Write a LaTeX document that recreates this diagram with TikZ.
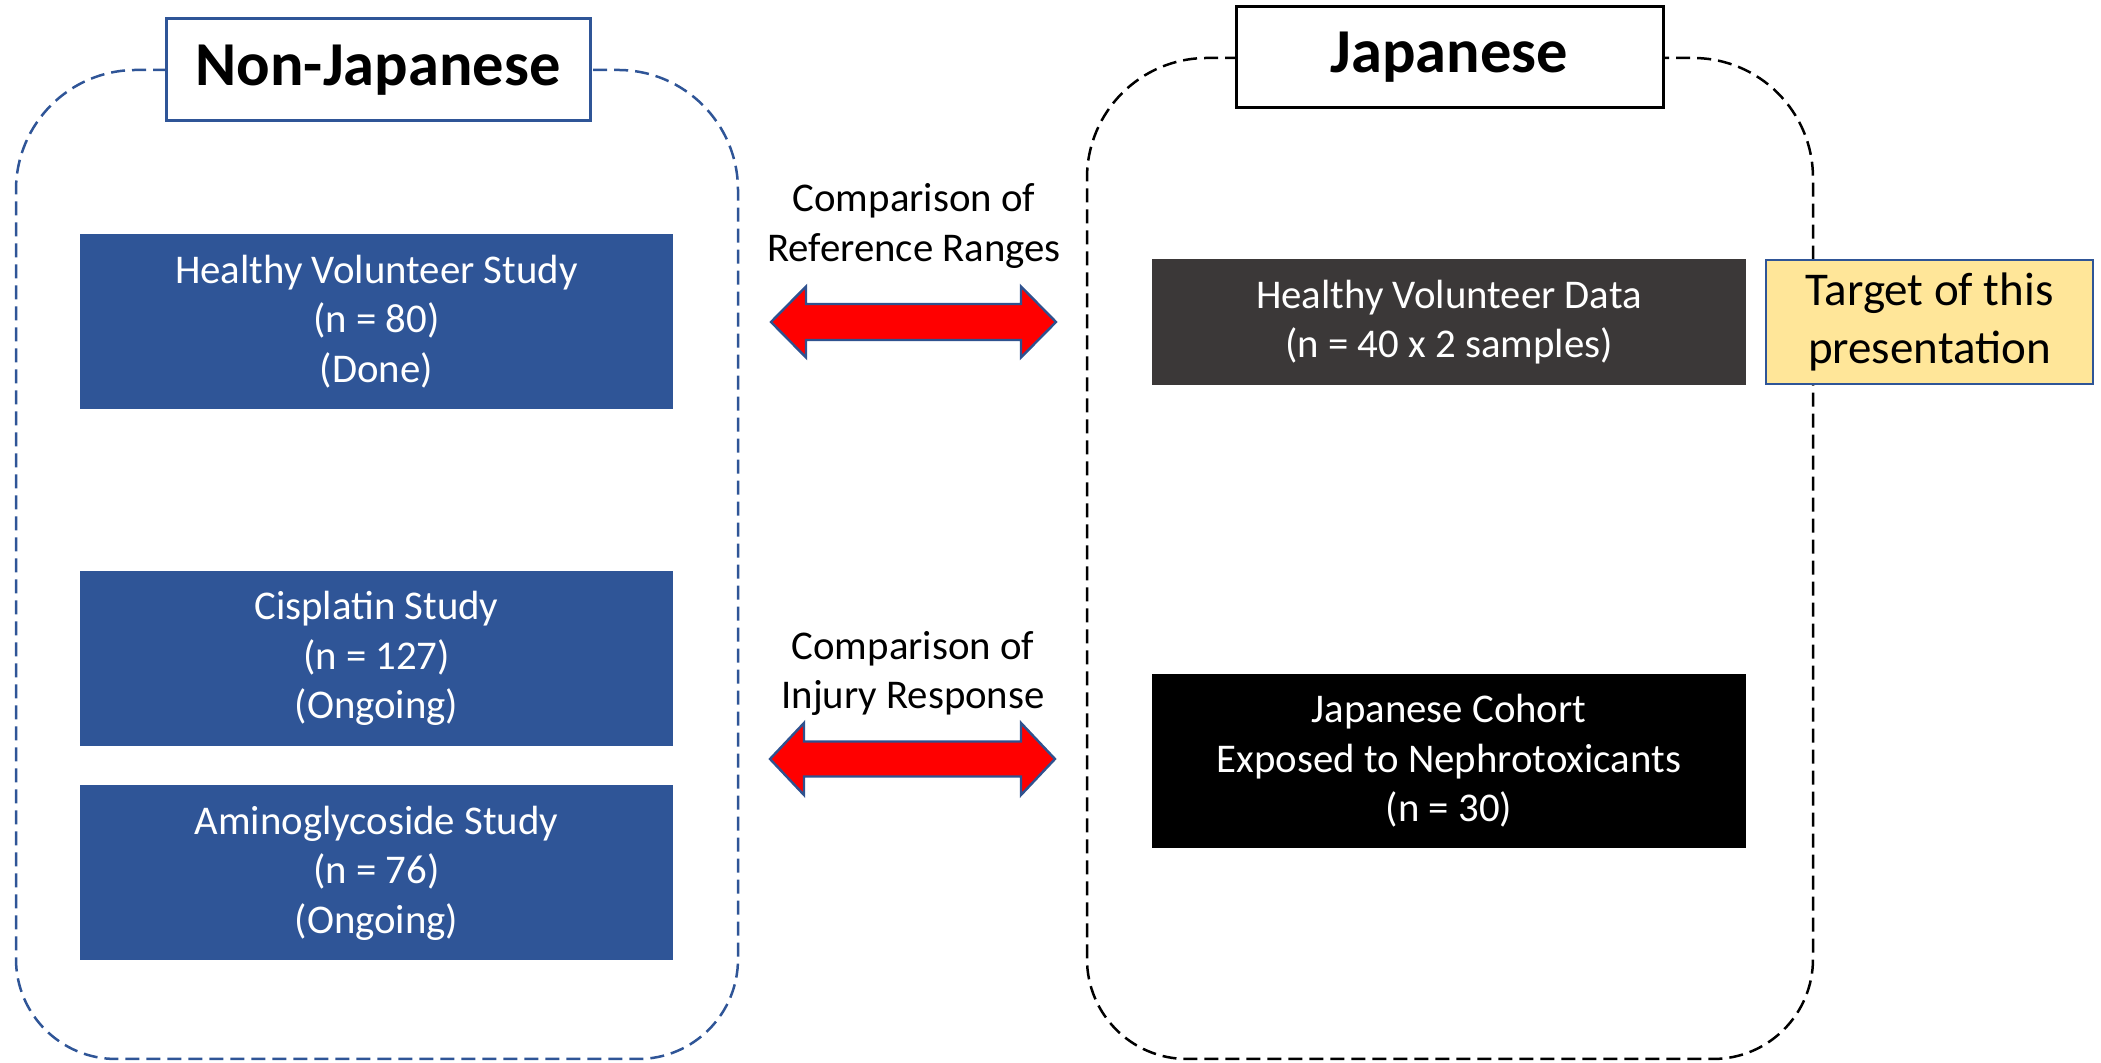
\documentclass[tikz,border=0pt]{standalone}
\usepackage{fontspec}
\setmainfont{Carlito}
\definecolor{cblue}{RGB}{47,85,151}
\definecolor{cgray}{RGB}{59,56,56}
\definecolor{cyellow}{RGB}{255,230,153}
\definecolor{cborder}{RGB}{47,82,143}
\begin{document}
\begin{tikzpicture}[x=0.5pt,y=0.5pt,
  bodyfont/.style={font=\fontsize{20.4}{24.8}\selectfont},
  studybox/.style={bodyfont, fill=cblue, text=white, align=center, inner sep=0pt,
    minimum width=296.5pt, minimum height=87.5pt},
  darkbox/.style={bodyfont, text=white, align=center, inner sep=0pt, minimum width=297pt},
  targetbox/.style={font=\fontsize{23.5}{29}\selectfont, fill=cyellow, draw=cblue, line width=1pt,
    align=center, inner sep=0pt, minimum width=163.5pt, minimum height=62pt},
  grouplabel/.style={font=\fontsize{31.25}{36}\selectfont\bfseries, fill=white, line width=1.5pt,
    inner sep=0pt, minimum height=51pt},
  cmptext/.style={bodyfont, align=center, inner sep=0pt},
  container/.style={dash pattern=on 7pt off 3.5pt, line width=1.25pt},
  bigarrow/.style={fill=red, draw=cborder, line width=1.2pt, line join=miter}
]
\useasboundingbox (0,0) rectangle (2101,1063);

% containers
\draw[container, draw=cblue] (377,993) -- (136,993) arc[start angle=90,end angle=180,radius=120]
  -- (16,104) arc[start angle=180,end angle=270,radius=100]
  -- (638,4) arc[start angle=270,end angle=360,radius=100]
  -- (738,873) arc[start angle=0,end angle=90,radius=120] -- cycle;
\draw[container, draw=black] (1449,1005) -- (1207,1005) arc[start angle=90,end angle=180,radius=120]
  -- (1087,104) arc[start angle=180,end angle=270,radius=100]
  -- (1713,4) arc[start angle=270,end angle=360,radius=100]
  -- (1813,885) arc[start angle=0,end angle=90,radius=120] -- cycle;

% group labels
\node[grouplabel, draw=cblue, minimum width=212pt] (nonjp) at (378,993) {Non-Japanese};
\node[grouplabel, draw=black, minimum width=213.5pt, minimum height=50.5pt] (jp) at (1449.5,1005.5) {Japanese};

% left studies
\node[studybox] (hvs) at (376.5,741.5) {Healthy Volunteer Study\\(n = 80)\\(Done)};
\node[studybox] (cis) at (376.5,404.5) {Cisplatin Study\\(n = 127)\\(Ongoing)};
\node[studybox] (amg) at (376.5,190) {Aminoglycoside Study\\(n = 76)\\(Ongoing)};

% right data
\node[darkbox, fill=cgray, minimum height=63pt] (hvd) at (1449,741) {Healthy Volunteer Data\\(n = 40 x 2 samples)};
\node[darkbox, fill=black, minimum height=87pt] (jpc) at (1449,302) {Japanese Cohort\\Exposed to Nephrotoxicants\\(n = 30)};
\node[targetbox] (target) at (1929.5,741) {Target of this\\presentation};

% comparison labels
\node[cmptext] (cmp1) at (914,837) {Comparison of\\Reference Ranges};
\node[cmptext] (cmp2) at (913,389.5) {Comparison of\\Injury Response};

% double arrows
\draw[bigarrow, shift={(913.5,741)}] (-142.5,0) -- (-107.5,35.5) -- (-107.5,18) -- (107.5,18)
  -- (107.5,35.5) -- (142.5,0) -- (107.5,-35.5) -- (107.5,-18) -- (-107.5,-18) -- (-107.5,-35.5) -- cycle;
\draw[bigarrow, shift={(912.5,304)}] (-142.5,0) -- (-108.5,36) -- (-108.5,17.5) -- (108.5,17.5)
  -- (108.5,36) -- (142.5,0) -- (108.5,-36) -- (108.5,-17.5) -- (-108.5,-17.5) -- (-108.5,-36) -- cycle;
\end{tikzpicture}
\end{document}
